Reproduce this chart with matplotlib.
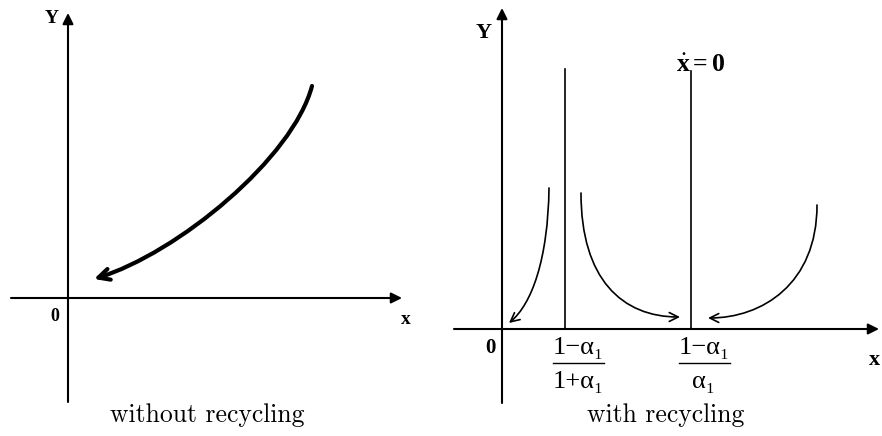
import numpy as np
import matplotlib
matplotlib.use("Agg")
import matplotlib.pyplot as plt
from matplotlib.path import Path
from matplotlib.patches import FancyArrowPatch

plt.rcParams['mathtext.fontset'] = 'custom'
plt.rcParams['mathtext.rm'] = 'Liberation Serif'
plt.rcParams['mathtext.it'] = 'Liberation Serif'
plt.rcParams['mathtext.bf'] = 'Liberation Serif:bold'

# --- datos (unidades de cada panel, origen en 0,0) ---
# panel izquierdo: sin reciclaje
izq_ejes_x = [-5.7, 33.4]
izq_ejes_y = [-10.4, 28.5]
izq_curva = [(24.4, 21.2), (22.5, 14.0), (11.0, 4.5), (2.6, 1.9)]

# panel derecho: con reciclaje
der_ejes_x = [-4.8, 37.7]
der_ejes_y = [-7.4, 32.1]
lineas_x = [6.3, 18.9]
lineas_top = [26.0, 25.8]
numeradores = ['1\u2212\u03b1\u2081', '1\u2212\u03b1\u2081']
denominadores = ['1+\u03b1\u2081', '\u03b1\u2081']
curvas_der = [
    [(4.7, 14.1), (4.6, 7.0), (3.0, 2.5), (0.7, 0.6)],
    [(7.9, 13.6), (7.9, 5.0), (12.0, 1.2), (17.8, 1.2)],
    [(31.5, 12.4), (31.5, 4.5), (26.0, 1.1), (20.6, 1.1)],
]

fig = plt.figure(figsize=(8.82, 4.36), dpi=100)
ax1 = fig.add_axes([0, 0, 0.5, 1])
ax2 = fig.add_axes([0.5, 0, 0.5, 1])
ax1.set_xlim(-6.8, 37.3)
ax1.set_ylim(-13.8, 29.8)
ax2.set_xlim(-6.1, 38.0)
ax2.set_ylim(-10.7, 32.9)
for ax in (ax1, ax2):
    ax.axis('off')


def dibujar_ejes(ax, ex, ey):
    ax.annotate('', xy=(ex[1], 0), xytext=(ex[0], 0),
                arrowprops=dict(arrowstyle='-|>', lw=1.5, color='black', mutation_scale=16,
                                shrinkA=0, shrinkB=0))
    ax.annotate('', xy=(0, ey[1]), xytext=(0, ey[0]),
                arrowprops=dict(arrowstyle='-|>', lw=1.5, color='black', mutation_scale=16,
                                shrinkA=0, shrinkB=0))


def curva_flecha(ax, pts, lw, escala, estilo):
    camino = Path(pts, [Path.MOVETO, Path.CURVE4, Path.CURVE4, Path.CURVE4])
    fl = FancyArrowPatch(path=camino, arrowstyle=estilo, lw=lw, color='black',
                         mutation_scale=escala, transform=ax.transData)
    ax.add_patch(fl)


# izquierdo
dibujar_ejes(ax1, izq_ejes_x, izq_ejes_y)
curva_flecha(ax1, izq_curva, 3.0, 20, '->')
ax1.text(-1.6, 28.0, 'Y', fontsize=14, fontweight='bold', family='Liberation Serif', ha='center', va='center')
ax1.text(-1.3, -1.8, '0', fontsize=13, fontweight='bold', family='Liberation Serif', ha='center', va='center')
ax1.text(33.8, -2.1, 'x', fontsize=14, fontweight='bold', family='Liberation Serif', ha='center', va='center')
ax1.text(13.9, -11.7, 'without recycling', fontsize=18.5, family='cmr10', ha='center', va='center')

# derecho
dibujar_ejes(ax2, der_ejes_x, der_ejes_y)
for xv, top in zip(lineas_x, lineas_top):
    ax2.plot([xv, xv], [0, top], color='black', lw=1.2)
for c in curvas_der:
    curva_flecha(ax2, c, 1.2, 16, '->')
ax2.text(-1.8, 29.6, 'Y', fontsize=16, fontweight='bold', family='Liberation Serif', ha='center', va='center')
ax2.text(-1.2, -1.9, '0', fontsize=15, fontweight='bold', family='Liberation Serif', ha='center', va='center')
ax2.text(37.2, -3.1, 'x', fontsize=16, fontweight='bold', family='Liberation Serif', ha='center', va='center')
ax2.text(19.9, 26.4, r'$\dot{\mathbf{x}}\mathbf{=0}$', fontsize=18.5, ha='center', va='center')
for xv, num, den in zip(lineas_x, numeradores, denominadores):
    xc = xv + 1.3
    ax2.text(xc, -1.9, num, fontsize=19, family='Liberation Serif', ha='center', va='center')
    ax2.plot([xc - 2.55, xc + 2.55], [-3.35, -3.35], color='black', lw=1.0)
    ax2.text(xc, -5.3, den, fontsize=19, family='Liberation Serif', ha='center', va='center')
ax2.text(16.4, -8.6, 'with recycling', fontsize=18.5, family='cmr10', ha='center', va='center')

fig.savefig('out.png', dpi=100)
